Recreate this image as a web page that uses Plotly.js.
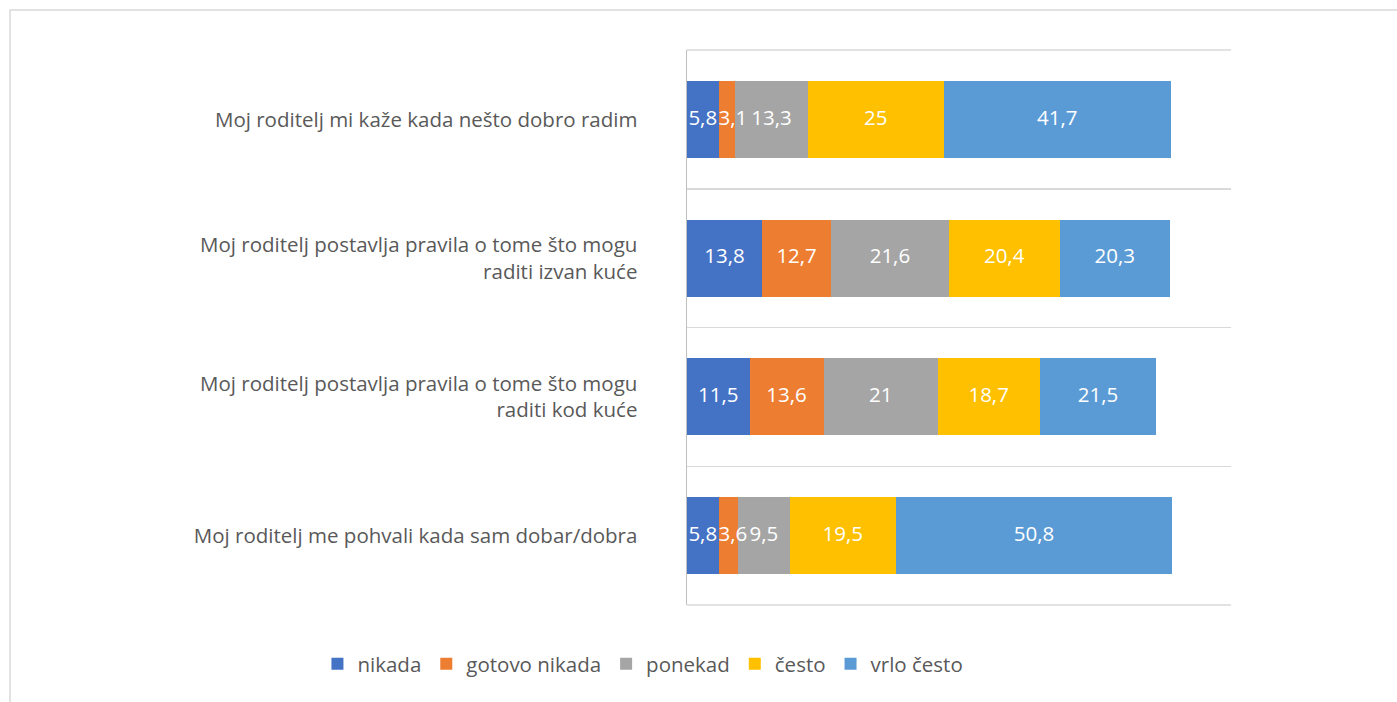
<!DOCTYPE html>
<html>
<head>
<meta charset="utf-8">
<script src="https://cdn.plot.ly/plotly-3.0.1.min.js"></script>
<style>html,body{margin:0;padding:0;background:#fff;}#chart{width:1397px;height:702px;}</style>
</head>
<body>
<div id="chart"></div>
<script>
const categories = [
  "Moj roditelj mi kaže kada nešto dobro radim",
  "Moj roditelj postavlja pravila o tome što mogu<br>raditi izvan kuće",
  "Moj roditelj postavlja pravila o tome što mogu<br>raditi kod kuće",
  "Moj roditelj me pohvali kada sam dobar/dobra"
];
const seriesNames = ["nikada", "gotovo nikada", "ponekad", "često", "vrlo često"];
const nikada = [5.8, 13.8, 11.5, 5.8];
const gotovoNikada = [3.1, 12.7, 13.6, 3.6];
const ponekad = [13.3, 21.6, 21, 9.5];
const cesto = [25, 20.4, 18.7, 19.5];
const vrloCesto = [41.7, 20.3, 21.5, 50.8];
const colors = ["#4472C4", "#ED7D31", "#A5A5A5", "#FFC000", "#5B9BD5"];

const allSeries = [nikada, gotovoNikada, ponekad, cesto, vrloCesto];
const FONT = "'Open Sans', sans-serif";
const FS = 20.5;
const fmt = v => String(v).replace(".", ",");

const traces = allSeries.map((vals, i) => ({
  type: "bar",
  orientation: "h",
  name: seriesNames[i],
  y: categories,
  x: vals,
  marker: {color: colors[i], line: {width: 0}},
  hoverinfo: "name+x"
}));

// data labels drawn on top of all bars (so narrow-segment labels may spill over, like the original)
const lx = [], ly = [], lt = [], lp = [];
categories.forEach((cat, j) => {
  let start = 0;
  allSeries.forEach((vals, i) => {
    const v = vals[j];
    if (i > 0 && v < 5) {
      lx.push(start); lp.push("middle right");
    } else {
      lx.push(start + v / 2); lp.push("middle center");
    }
    ly.push(cat); lt.push(fmt(v));
    start += v;
  });
});
traces.push({
  type: "scatter",
  mode: "text",
  x: lx, y: ly, text: lt,
  textposition: lp,
  textfont: {family: FONT, size: FS, color: "#ffffff"},
  showlegend: false,
  hoverinfo: "skip",
  cliponaxis: false
});

const layout = {
  width: 1397,
  height: 702,
  margin: {l: 687, r: 166, t: 50, b: 97},
  paper_bgcolor: "#ffffff",
  plot_bgcolor: "#ffffff",
  barmode: "stack",
  bargap: 0.445,
  showlegend: true,
  legend: {
    orientation: "h",
    x: -0.081, xanchor: "center",
    y: -0.106, yanchor: "middle",
    font: {family: FONT, size: FS, color: "#595959"},
    itemwidth: 30,
    traceorder: "normal"
  },
  xaxis: {
    range: [0, 100],
    showgrid: false,
    zeroline: false,
    showline: false,
    showticklabels: false,
    ticks: ""
  },
  yaxis: {
    type: "category",
    autorange: "reversed",
    tickson: "boundaries",
    showgrid: true,
    gridcolor: "#d9d9d9",
    gridwidth: 1.5,
    showline: true,
    linecolor: "#bfbfbf",
    linewidth: 1.5,
    ticks: "",
    ticklabelstandoff: 44,
    tickfont: {family: FONT, size: FS, color: "#595959"}
  },
  shapes: [
    {
      type: "rect",
      xref: "paper", yref: "paper",
      x0: -677/544, x1: 1.4,
      y0: -0.3, y1: 595/555,
      line: {color: "#d9d9d9", width: 1.5},
      fillcolor: "rgba(0,0,0,0)",
      layer: "below"
    },
    {
      type: "line", xref: "paper", yref: "paper",
      x0: 0, x1: 1, y0: 1, y1: 1,
      line: {color: "#d9d9d9", width: 1.5}, layer: "below"
    },
    {
      type: "line", xref: "paper", yref: "paper",
      x0: 0, x1: 1, y0: 0, y1: 0,
      line: {color: "#d9d9d9", width: 1.5}, layer: "below"
    }
  ]
};

Plotly.newPlot("chart", traces, layout, {displayModeBar: false, staticPlot: true});
</script>
</body>
</html>
